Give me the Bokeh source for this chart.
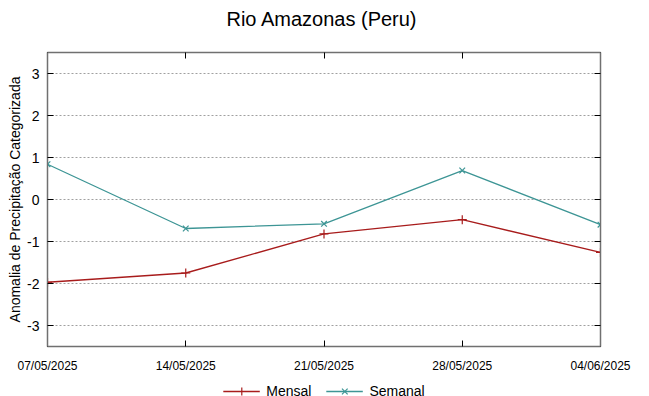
from datetime import datetime
from bokeh.plotting import figure
from bokeh.layouts import column
from bokeh.models import (ColumnDataSource, FixedTicker, DatetimeTickFormatter, Range1d,
                          LinearAxis, DatetimeAxis, Legend, LegendItem, Div)
from bokeh.embed import file_html
from bokeh.resources import INLINE

title_text = "Rio Amazonas (Peru)"
dates = ["07/05/2025", "14/05/2025", "21/05/2025", "28/05/2025", "04/06/2025"]
mensal = [-1.97, -1.75, -0.82, -0.48, -1.26]
semanal = [0.84, -0.69, -0.58, 0.69, -0.60]
y_ticks = [-3, -2, -1, 0, 1, 2, 3]
y_labels = ["-3", "-2", "-1", "0", "1", "2", "3"]
series_names = ["Mensal", "Semanal"]

x = [datetime.strptime(d, "%d/%m/%Y") for d in dates]
src = ColumnDataSource(dict(x=x, mensal=mensal, semanal=semanal))

RED = "#a81c1c"
TEAL = "#3d9595"
FONT = "Liberation Sans"

head = Div(text=title_text, width=633, height=36,
           styles={"font-family": FONT, "font-size": "20px", "text-align": "center",
                   "line-height": "28px", "color": "#000000", "width": "633px"})

p = figure(width=633, height=332, x_axis_type="datetime", output_backend="svg",
           toolbar_location=None,
           x_range=Range1d(x[0], x[-1]), y_range=Range1d(-3.5, 3.5),
           min_border_left=47, min_border_right=33, min_border_top=6, min_border_bottom=32)

p.outline_line_color = "#707070"
p.outline_line_width = 1.5
p.background_fill_color = "white"
p.border_fill_color = "white"

tick_ms = [d.timestamp() * 1000 for d in x]
xa = p.xaxis[0]
xa.ticker = FixedTicker(ticks=tick_ms)
xa.formatter = DatetimeTickFormatter(days="%d/%m/%Y", months="%d/%m/%Y", hours="%d/%m/%Y")
xa.major_label_text_font = FONT
xa.major_label_text_font_size = "12px"
xa.major_label_text_color = "#000000"
xa.major_label_standoff = 12
xa.major_tick_in = 6
xa.major_tick_out = 0
xa.minor_tick_line_color = None
xa.axis_line_color = "#707070"
xa.major_tick_line_color = "#000000"

ya = p.yaxis[0]
ya.ticker = FixedTicker(ticks=y_ticks)
ya.major_label_overrides = dict(zip(y_ticks, y_labels))
ya.major_label_text_font = FONT
ya.major_label_text_font_size = "14px"
ya.major_label_text_color = "#000000"
ya.major_label_standoff = 8
ya.major_tick_in = 6
ya.major_tick_out = 0
ya.minor_tick_line_color = None
ya.axis_line_color = "#707070"
ya.axis_label = "Anomalia de Precipitação Categorizada"
ya.axis_label_text_font = FONT
ya.axis_label_text_font_size = "14px"
ya.axis_label_text_font_style = "normal"
ya.axis_label_text_color = "#000000"
ya.axis_label_standoff = 1

ra = LinearAxis(ticker=FixedTicker(ticks=y_ticks), major_tick_in=6, major_tick_out=0,
                minor_tick_line_color=None, axis_line_color="#707070", major_label_standoff=0,
                major_label_overrides={t: "" for t in y_ticks})
p.add_layout(ra, "right")
ta = DatetimeAxis(ticker=FixedTicker(ticks=tick_ms), major_tick_in=6, major_tick_out=0,
                  minor_tick_line_color=None, axis_line_color="#707070", major_label_standoff=0,
                  major_label_overrides={t: "" for t in tick_ms})
p.add_layout(ta, "above")

p.xgrid.grid_line_color = None
p.ygrid[0].ticker = FixedTicker(ticks=y_ticks)
p.ygrid.grid_line_color = "#a0a0a0"
p.ygrid.grid_line_dash = "2 2"
p.ygrid.grid_line_width = 1

p.line("x", "mensal", source=src, color=RED, line_width=1.3)
p.scatter("x", "mensal", source=src, marker="cross", size=9, line_color=RED, line_width=1.2)
p.line("x", "semanal", source=src, color=TEAL, line_width=1.3)
p.scatter("x", "semanal", source=src, marker="x", size=8, line_color=TEAL, line_width=1.2)

# legend strip below the chart; its renderers use the same data, outside its visible range
lg = figure(width=633, height=26, output_backend="svg", toolbar_location=None,
            x_range=Range1d(0, 1), y_range=Range1d(0, 1), min_border=0,
            outline_line_color=None)
lg.axis.visible = False
lg.grid.visible = False
r1 = lg.line("x", "mensal", source=src, color=RED, line_width=1.3)
s1 = lg.scatter("x", "mensal", source=src, marker="cross", size=9, line_color=RED, line_width=1.2)
r2 = lg.line("x", "semanal", source=src, color=TEAL, line_width=1.3)
s2 = lg.scatter("x", "semanal", source=src, marker="x", size=8, line_color=TEAL, line_width=1.2)
legend = Legend(items=[LegendItem(label=series_names[0], renderers=[r1, s1]),
                       LegendItem(label=series_names[1], renderers=[r2, s2])],
                orientation="horizontal", location="center",
                label_text_font=FONT, label_text_font_size="14px", label_text_color="#000000",
                glyph_width=37, spacing=14, padding=0, margin=0,
                border_line_color=None, background_fill_alpha=0, label_standoff=7)
lg.add_layout(legend)

layout = column(head, p, lg, spacing=0)
open("out.html", "w").write(file_html(layout, INLINE))
